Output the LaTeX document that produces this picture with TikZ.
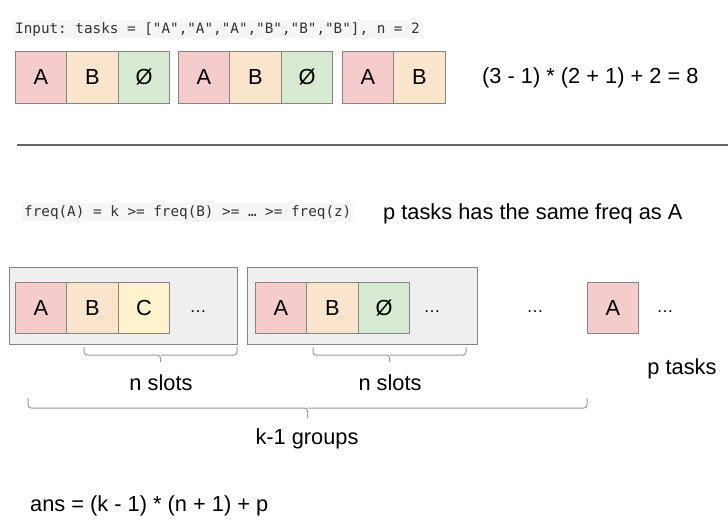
\documentclass[tikz,border=0pt]{standalone}
\usepackage{fontspec}
\setmainfont{Liberation Sans}
\newfontfamily\monof{DejaVu Sans Mono}
\definecolor{cA}{HTML}{F4CCCC}
\definecolor{cB}{HTML}{FCE5CD}
\definecolor{cN}{HTML}{D9EAD3}
\definecolor{cC}{HTML}{FFF2CC}
\definecolor{grp}{HTML}{EFEFEF}
\definecolor{edgec}{HTML}{858585}
\definecolor{bracec}{HTML}{9A9A9A}
\definecolor{codebg}{HTML}{F6F6F6}
\definecolor{codetx}{HTML}{333333}
\newcommand\mybig{\fontsize{21.8}{26}\selectfont}
\newcommand\mymono{\monof\fontsize{14.3}{17}\selectfont}
\newcommand\mydots{\fontsize{17}{20}\selectfont …}
\tikzset{
  cell/.style={draw=edgec, line width=1pt, minimum width=51.5pt, minimum height=52pt, inner sep=0pt, font=\mybig},
  grpbox/.style={draw=edgec, fill=grp, line width=1pt},
  bracepath/.style={draw=bracec, line width=1pt, rounded corners=3pt},
  label/.style={inner sep=0pt, font=\mybig},
  code/.style={fill=codebg, inner sep=2pt, text=codetx, font=\mymono},
  dotsnode/.style={inner sep=0pt}
}
\frenchspacing
\begin{document}
\begin{tikzpicture}[x=1pt,y=-1pt]
\useasboundingbox (0,0) rectangle (728,520);
% top code line
\node[code, anchor=base west] (input) at (13,33) {Input: tasks = ["A","A","A","B","B","B"], n = 2};
% top row
\node[cell, fill=cA] (t1) at (41,77) {A};
\node[cell, fill=cB] (t2) at (92.5,77) {B};
\node[cell, fill=cN] (t3) at (144,77) {Ø};
\node[cell, fill=cA] (t4) at (204,77) {A};
\node[cell, fill=cB] (t5) at (255.5,77) {B};
\node[cell, fill=cN] (t6) at (307,77) {Ø};
\node[cell, fill=cA] (t7) at (368,77) {A};
\node[cell, fill=cB] (t8) at (419.5,77) {B};
\node[label, anchor=base west] (formula) at (482,83) {(3 - 1) * (2 + 1) + 2 = 8};
% separator
\coordinate (sepL) at (17,145);
\coordinate (sepR) at (728,145);
\draw[draw=black!60, line width=1.2pt] (sepL) -- (sepR);
% freq line
\node[code, anchor=base west] (freq) at (22,216) {freq(A) = k >= freq(B) >= … >= freq(z)};
\node[label, anchor=base west] (ptext) at (383,219) {p tasks has the same freq as A};
% groups
\draw[grpbox] (9,267) rectangle (237.5,344);
\draw[grpbox] (247,267) rectangle (477,344);
\node[cell, fill=cA, minimum height=51pt] (g1a) at (41,307.5) {A};
\node[cell, fill=cB, minimum height=51pt] (g1b) at (92.5,307.5) {B};
\node[cell, fill=cC, minimum height=51pt] (g1c) at (144,307.5) {C};
\node[dotsnode] (g1d) at (198,312) {\mydots};
\node[cell, fill=cA, minimum height=51pt] (g2a) at (281,307.5) {A};
\node[cell, fill=cB, minimum height=51pt] (g2b) at (332.5,307.5) {B};
\node[cell, fill=cN, minimum height=51pt] (g2c) at (384,307.5) {Ø};
\node[dotsnode] (g2d) at (432,312) {\mydots};
\node[dotsnode] (midd) at (535,312) {\mydots};
\node[cell, fill=cA, minimum height=51pt] (pa) at (613,307.5) {A};
\node[dotsnode] (pd) at (665,312) {\mydots};
% braces
\draw[bracepath] (84,347) |- (160.5,355) -- (160.5,362);
\draw[bracepath] (160.5,355) -| (237,347);
\draw[bracepath] (313,347) |- (389.5,355) -- (389.5,362);
\draw[bracepath] (389.5,355) -| (466,347);
\draw[bracepath] (28,398) |- (307.5,408) -- (307.5,418);
\draw[bracepath] (307.5,408) -| (587,398);
\node[label, anchor=base] (ns1) at (161,390) {n slots};
\node[label, anchor=base] (ns2) at (390,390) {n slots};
\node[label, anchor=base] (pt) at (682,374) {p tasks};
\node[label, anchor=base] (kg) at (307,444) {k-1 groups};
\node[label, anchor=base west] (ans) at (30,511) {ans = (k - 1) * (n + 1) + p};
\end{tikzpicture}
\end{document}
